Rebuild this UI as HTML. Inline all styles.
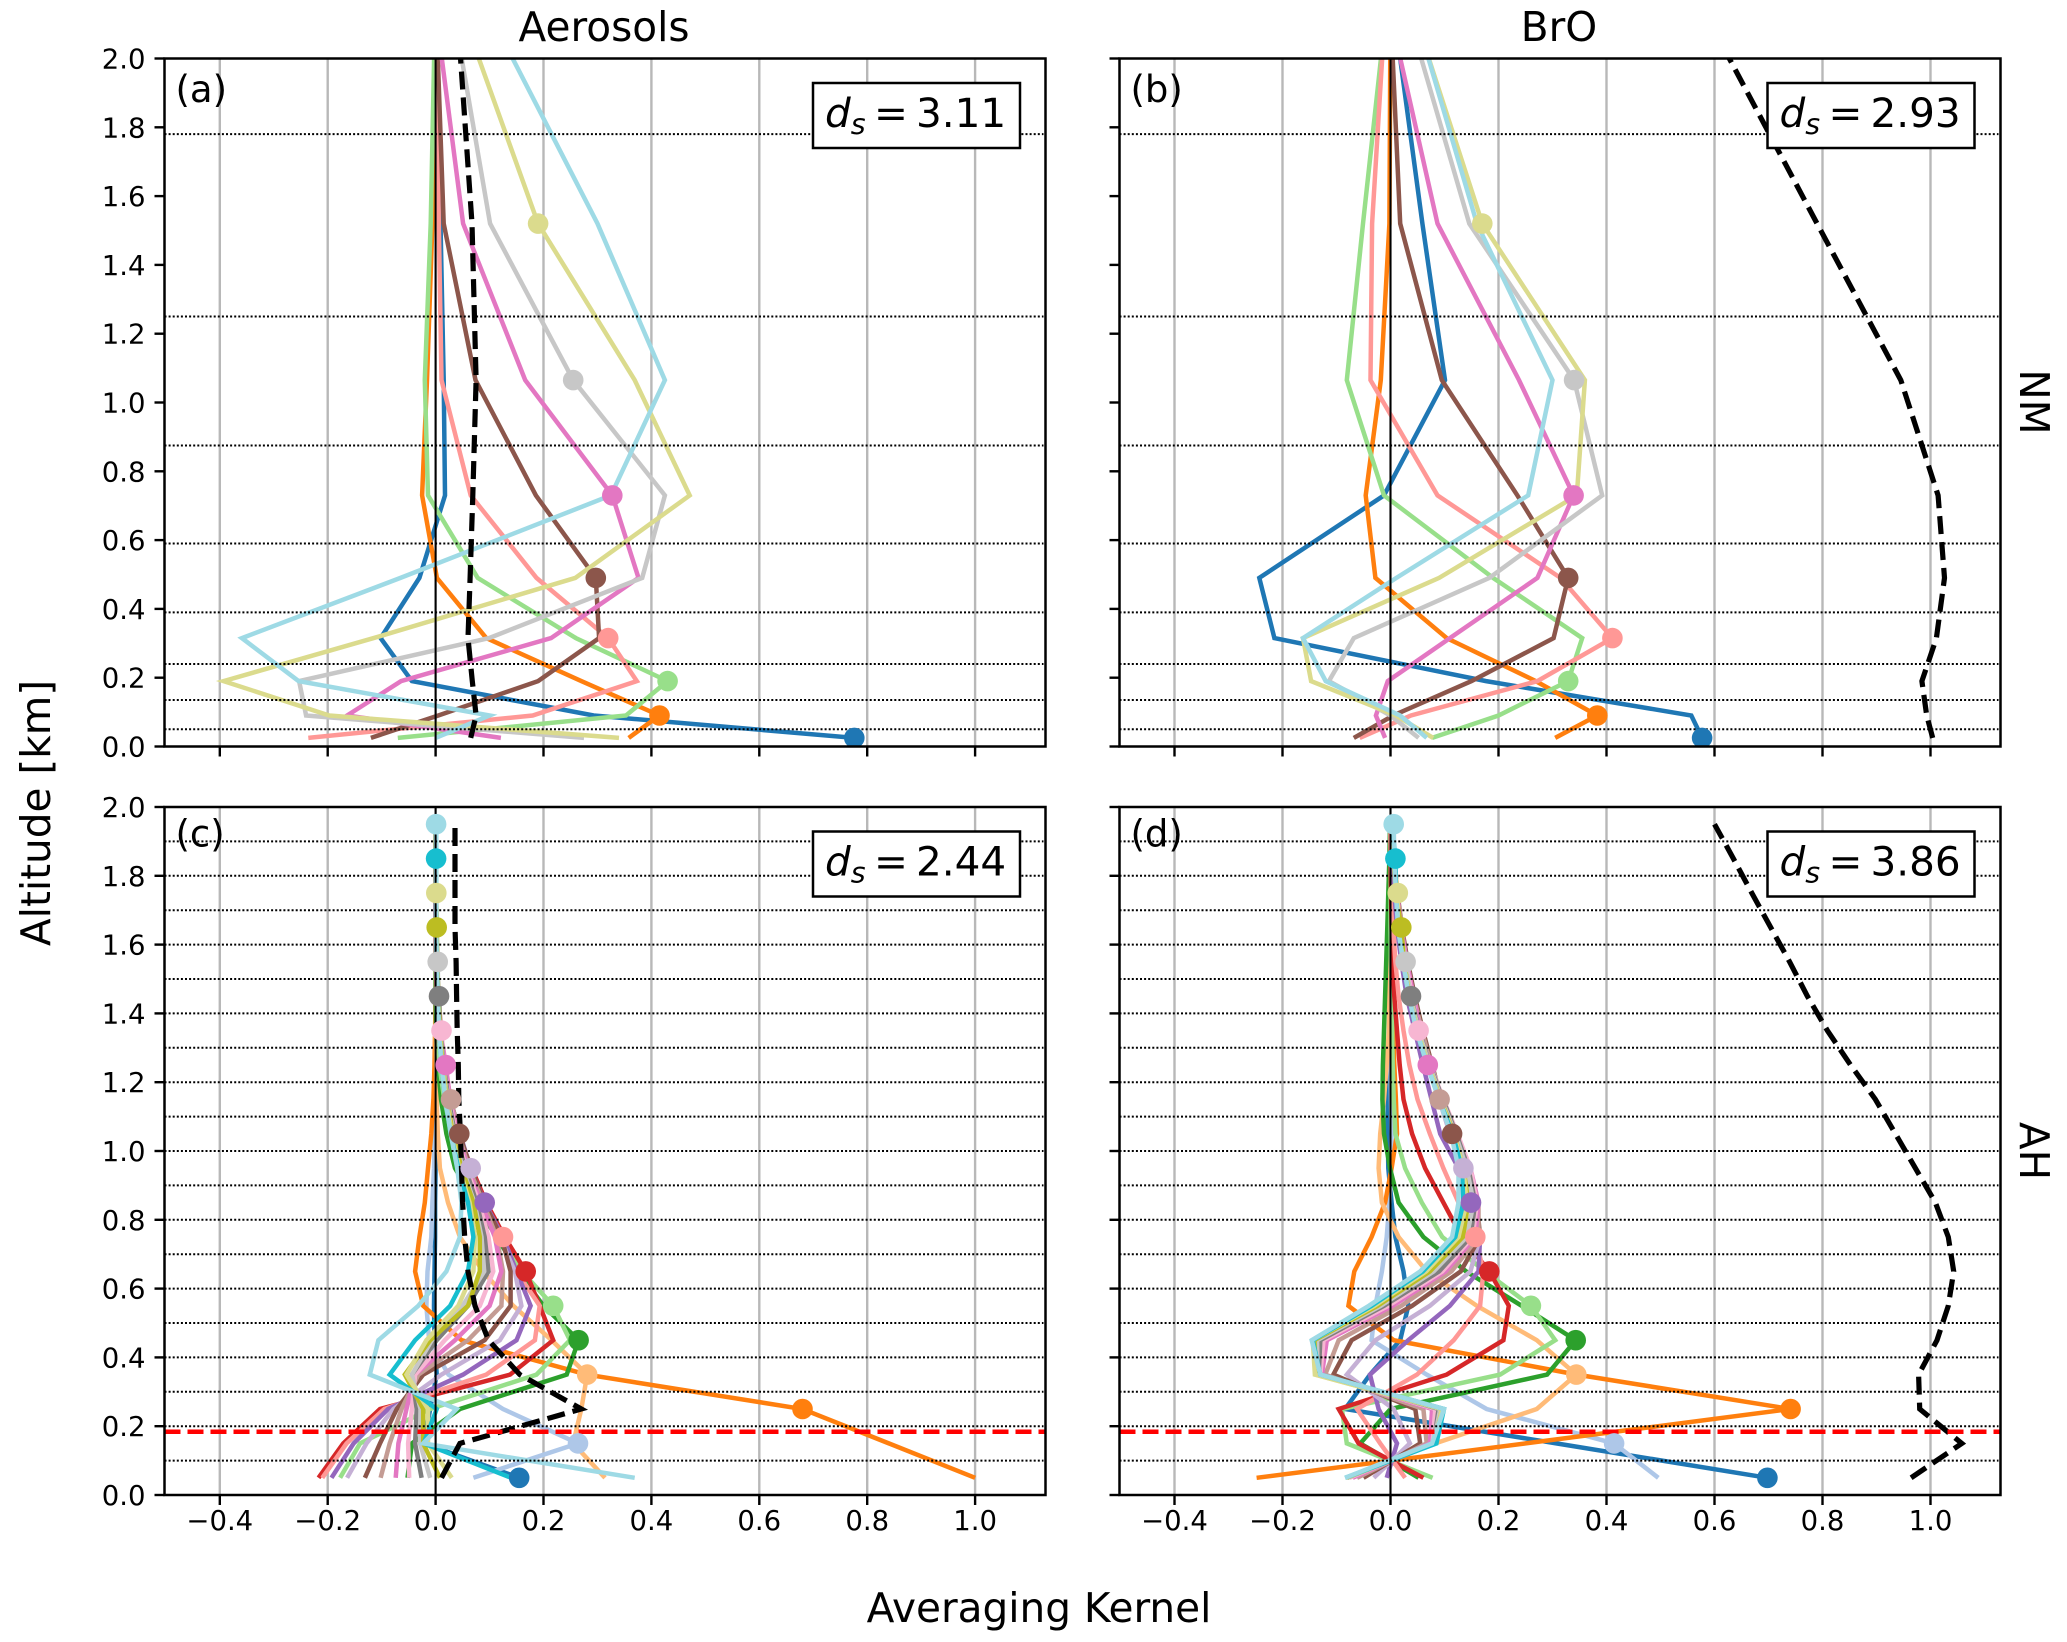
<!DOCTYPE html>
<html>
<head>
<meta charset="utf-8">
<title>Averaging Kernels</title>
<style>
html,body{margin:0;padding:0;background:#fff;}
svg{display:block;font-family:"DejaVu Sans","Liberation Sans",sans-serif;}
</style>
</head>
<body>
<svg id="fig" xmlns="http://www.w3.org/2000/svg" width="2067" height="1642" viewBox="0 0 2067 1642">
<rect x="0" y="0" width="2067" height="1642" fill="#fff"/>
<text x="604" y="41" font-size="40.6" text-anchor="middle">Aerosols</text>
<text x="1559" y="41" font-size="40.6" text-anchor="middle">BrO</text>
<text transform="translate(50,813) rotate(-90)" font-size="40.6" text-anchor="middle">Altitude [km]</text>
<text x="1039" y="1622" font-size="40.6" text-anchor="middle">Averaging Kernel</text>
<text transform="translate(2020,402) rotate(90)" font-size="40.6" text-anchor="middle">NM</text>
<text transform="translate(2020,1151) rotate(90)" font-size="40.6" text-anchor="middle">AH</text>
</svg>
<script>
const xTickValues = [-0.4,-0.2,0.0,0.2,0.4,0.6,0.8,1.0];
const xTickLabels = ["\u22120.4","\u22120.2","0.0","0.2","0.4","0.6","0.8","1.0"];
const yTickValues = [0.0,0.2,0.4,0.6,0.8,1.0,1.2,1.4,1.6,1.8,2.0];
const yTickLabels = ["0.0","0.2","0.4","0.6","0.8","1.0","1.2","1.4","1.6","1.8","2.0"];

const nmLevels = [0.025,0.09,0.19,0.315,0.49,0.73,1.065,1.52,2.14];
const nmBoundaries = [0.05,0.135,0.24,0.39,0.59,0.875,1.25,1.78];
const ahLevels = [0.05,0.15,0.25,0.35,0.45,0.55,0.65,0.75,0.85,0.95,1.05,1.15,1.25,1.35,1.45,1.55,1.65,1.75,1.85,1.95];
const ahBoundaries = [0.1,0.2,0.3,0.4,0.5,0.6,0.7,0.8,0.9,1.0,1.1,1.2,1.3,1.4,1.5,1.6,1.7,1.8,1.9];

const nmColors = ["#1f77b4","#ff7f0e","#98df8a","#ff9896","#8c564b","#e377c2","#c7c7c7","#dbdb8d","#9edae5"];
const ahColors = ["#1f77b4","#aec7e8","#ff7f0e","#ffbb78","#2ca02c","#98df8a","#d62728","#ff9896","#9467bd","#c5b0d5","#8c564b","#c49c94","#e377c2","#f7b6d2","#7f7f7f","#c7c7c7","#bcbd22","#dbdb8d","#17becf","#9edae5"];

const aerosolNmKernels = [
[0.776,0.293,-0.044,-0.102,-0.03,0.0175,0.015,0.009,0.0],
[0.358,0.415,0.27,0.094,0.0025,-0.025,-0.016,-0.006,0.0],
[-0.07,0.353,0.43,0.26,0.078,-0.014,-0.02,-0.009,-0.001],
[-0.236,0.18,0.373,0.32,0.187,0.065,0.011,0.006,0.001],
[-0.12,0.005,0.19,0.303,0.297,0.186,0.074,0.015,0.001],
[0.121,-0.164,-0.064,0.214,0.376,0.3275,0.166,0.051,0.0],
[0.275,-0.24,-0.253,0.099,0.383,0.425,0.255,0.101,0.033],
[0.34,-0.197,-0.393,-0.115,0.259,0.471,0.369,0.19,0.048],
[0.0,0.1,-0.254,-0.359,-0.065,0.325,0.425,0.30,0.097]
];
const aerosolNmSum = [0.065,0.075,0.068,0.06,0.064,0.069,0.075,0.0675,0.04];

const broNmKernels = [
[0.577,0.557,0.177,-0.215,-0.243,-0.012,0.101,0.059,0.006],
[0.305,0.383,0.269,0.104,-0.028,-0.046,-0.018,-0.002,0.0],
[0.077,0.2,0.329,0.355,0.19,-0.012,-0.081,-0.051,-0.008],
[-0.057,0.038,0.272,0.411,0.315,0.087,-0.037,-0.034,-0.01],
[-0.068,0.005,0.15,0.302,0.329,0.235,0.095,0.018,0.0],
[-0.01,-0.027,-0.005,0.11,0.272,0.339,0.238,0.087,-0.002],
[0.052,0.0,-0.114,-0.068,0.183,0.392,0.34,0.146,0.031],
[0.079,0.01,-0.147,-0.162,0.09,0.345,0.36,0.17,0.042],
[0.067,0.018,-0.12,-0.162,0.011,0.255,0.30,0.16,0.044]
];
const broNmSum = [1.004,0.993,0.984,1.011,1.026,1.014,0.945,0.79,0.58];

const aerosolAhKernels = [
[0.155,-0.022,-0.01,0.002,-0.002,-0.003,-0.002,-0.001,-0.001,0,0,0,0,0,0,0,0,0,0,0],
[0.07,0.264,0.125,0.024,-0.012,-0.017,-0.015,-0.008,-0.006,-0.003,-0.002,-0.001,0,0,0,0,0,0,0,0],
[1.0,0.84,0.68,0.28,0.048,-0.023,-0.038,-0.03,-0.02,-0.014,-0.008,-0.004,-0.002,-0.001,0,0,0,0,0,0],
[0.314,0.255,0.27,0.281,0.215,0.144,0.088,0.045,0.023,0.008,0.004,0.002,0.001,0,0,0,0,0,0,0],
[-0.052,-0.044,0.045,0.243,0.265,0.2,0.153,0.113,0.073,0.036,0.02,0.01,0.004,0.001,0,0,0,0,0,0],
[-0.177,-0.14,-0.01,0.187,0.249,0.218,0.16,0.118,0.082,0.048,0.03,0.016,0.007,0.003,0.001,0,0,0,0,0],
[-0.217,-0.171,-0.103,0.138,0.218,0.193,0.167,0.128,0.094,0.067,0.042,0.025,0.012,0.005,0.002,0.001,0,0,0,0],
[-0.21,-0.165,-0.095,0.094,0.184,0.193,0.15,0.125,0.09,0.062,0.04,0.022,0.012,0.005,0.002,0.001,0,0,0,0],
[-0.193,-0.152,-0.088,0.051,0.15,0.176,0.15,0.125,0.091,0.065,0.045,0.027,0.014,0.007,0.003,0.001,0,0,0,0],
[-0.164,-0.128,-0.078,0.011,0.119,0.159,0.147,0.119,0.088,0.065,0.043,0.028,0.015,0.008,0.003,0.001,0,0,0,0],
[-0.131,-0.103,-0.072,-0.023,0.091,0.139,0.139,0.122,0.09,0.065,0.044,0.028,0.016,0.008,0.003,0.001,0,0,0,0],
[-0.102,-0.085,-0.063,-0.032,0.06,0.122,0.125,0.113,0.088,0.062,0.042,0.0285,0.016,0.009,0.004,0.001,0,0,0,0],
[-0.074,-0.069,-0.054,-0.038,0.036,0.1,0.122,0.11,0.084,0.06,0.04,0.027,0.0187,0.009,0.004,0.001,0,0,0,0],
[-0.049,-0.051,-0.044,-0.038,0.017,0.082,0.107,0.098,0.08,0.057,0.038,0.025,0.015,0.011,0.005,0.002,0.001,0,0,0],
[-0.026,-0.038,-0.035,-0.044,0.002,0.06,0.098,0.091,0.076,0.055,0.036,0.024,0.015,0.009,0.0063,0.002,0.001,0,0,0],
[-0.01,-0.029,-0.028,-0.044,-0.007,0.05,0.09,0.085,0.072,0.05,0.034,0.022,0.014,0.008,0.005,0.0039,0.002,0.001,0,0],
[0.008,-0.023,-0.023,-0.057,-0.01,0.06,0.082,0.082,0.07,0.048,0.032,0.021,0.013,0.008,0.005,0.003,0.002,0.001,0,0],
[0.03,-0.014,-0.014,-0.054,-0.017,0.042,0.07,0.073,0.063,0.044,0.03,0.02,0.012,0.007,0.004,0.002,0.0015,0.0013,0.001,0],
[0.14,-0.022,0.002,-0.085,-0.038,0.027,0.06,0.07,0.06,0.042,0.028,0.018,0.011,0.006,0.004,0.002,0.001,0.001,0.001,0.001],
[0.369,-0.023,0.039,-0.122,-0.106,-0.032,0.02,0.045,0.048,0.04,0.028,0.018,0.011,0.006,0.004,0.002,0.001,0.001,0.001,0.001]
];
const aerosolAhSum = [0.011,0.045,0.27,0.156,0.098,0.073,0.06,0.054,0.05,0.048,0.046,0.043,0.042,0.04,0.039,0.038,0.036,0.036,0.036,0.036];

const broAhKernels = [
[0.698,0.307,-0.084,-0.038,0.018,0.033,0.024,0.009,0.002,-0.004,-0.005,-0.005,-0.003,-0.002,-0.001,0,0,0,0,0],
[0.496,0.414,0.178,0.067,-0.035,-0.028,-0.016,-0.007,-0.002,0.001,0.002,0.001,0,0,0,0,0,0,0,0],
[-0.248,0.25,0.741,0.345,0.006,-0.078,-0.067,-0.035,-0.01,0.002,0.012,0.01,0.007,0.005,0.003,0.002,0.001,0,0,0],
[-0.08,0.083,0.271,0.344,0.271,0.16,0.067,0.015,-0.016,-0.022,-0.019,-0.012,-0.007,-0.003,-0.002,-0.001,0,0,0,0],
[0.052,-0.056,0.0,0.29,0.343,0.243,0.14,0.061,0.015,-0.001,-0.012,-0.015,-0.014,-0.012,-0.01,-0.008,-0.006,-0.004,-0.002,-0.001],
[0.078,-0.081,-0.09,0.203,0.305,0.26,0.175,0.096,0.058,0.027,0.009,0.006,0.004,0.003,0.002,0.001,0,0,0,0],
[0.061,-0.059,-0.096,0.104,0.209,0.219,0.183,0.132,0.098,0.064,0.04,0.024,0.017,0.012,0.007,0.004,0.002,0.001,0,0],
[0.027,-0.019,-0.062,0.049,0.117,0.166,0.172,0.157,0.126,0.098,0.073,0.05,0.035,0.024,0.015,0.009,0.005,0.003,0.001,0],
[-0.007,0.012,-0.022,-0.038,0.033,0.11,0.163,0.166,0.149,0.126,0.092,0.076,0.06,0.045,0.03,0.02,0.012,0.007,0.004,0.002],
[-0.031,0.036,0.006,-0.081,-0.028,0.073,0.148,0.166,0.157,0.135,0.11,0.09,0.072,0.055,0.04,0.028,0.018,0.011,0.006,0.003],
[-0.05,0.055,0.046,-0.106,-0.072,0.04,0.13,0.166,0.16,0.138,0.114,0.094,0.077,0.06,0.045,0.032,0.021,0.013,0.007,0.004],
[-0.062,0.067,0.061,-0.121,-0.096,0.02,0.113,0.163,0.163,0.144,0.118,0.091,0.075,0.058,0.043,0.03,0.02,0.012,0.007,0.004],
[-0.07,0.073,0.077,-0.127,-0.118,0.004,0.102,0.157,0.163,0.148,0.123,0.097,0.069,0.055,0.043,0.03,0.02,0.012,0.007,0.004],
[-0.076,0.078,0.083,-0.13,-0.124,-0.004,0.096,0.152,0.16,0.148,0.124,0.098,0.074,0.052,0.04,0.028,0.018,0.011,0.006,0.003],
[-0.08,0.08,0.089,-0.133,-0.13,-0.012,0.09,0.148,0.157,0.144,0.122,0.097,0.073,0.053,0.038,0.026,0.017,0.01,0.006,0.003],
[-0.08,0.08,0.092,-0.135,-0.136,-0.018,0.08,0.141,0.154,0.141,0.12,0.095,0.072,0.052,0.037,0.028,0.017,0.01,0.006,0.003],
[-0.082,0.082,0.095,-0.138,-0.141,-0.024,0.073,0.134,0.144,0.135,0.118,0.093,0.07,0.05,0.035,0.025,0.02,0.01,0.006,0.003],
[-0.083,0.083,0.095,-0.14,-0.144,-0.03,0.066,0.126,0.141,0.135,0.117,0.092,0.07,0.05,0.035,0.024,0.0136,0.0136,0.006,0.003],
[-0.084,0.085,0.099,-0.13,-0.144,-0.035,0.06,0.12,0.135,0.132,0.115,0.09,0.068,0.048,0.034,0.023,0.014,0.01,0.009,0.003],
[-0.084,0.077,0.099,-0.13,-0.146,-0.04,0.055,0.114,0.126,0.126,0.112,0.09,0.068,0.048,0.034,0.023,0.014,0.01,0.007,0.006]
];
const broAhSum = [0.964,1.058,0.98,0.978,1.012,1.033,1.043,1.033,1.009,0.972,0.935,0.898,0.852,0.809,0.772,0.739,0.704,0.669,0.635,0.6];

const redLineAltitude = 0.184;
const dofsLabels = ["3.11","2.93","2.44","3.86"];
const panelLetters = ["(a)","(b)","(c)","(d)"];

const SVGNS = "http://www.w3.org/2000/svg";
const fig = document.getElementById("fig");

function mk(parent, tag, attrs) {
  const el = document.createElementNS(SVGNS, tag);
  for (const k in attrs) el.setAttribute(k, attrs[k]);
  parent.appendChild(el);
  return el;
}

function drawPanel(cfg) {
  const xAxis = v => cfg.x0 + v * cfg.sx;
  const yAxis = v => cfg.bottom - v * 344;
  const left = cfg.left, right = cfg.left + 881, top = cfg.bottom - 688, bottom = cfg.bottom;

  const g = mk(fig, "g", {});
  
  

  const defs = mk(g, "defs", {});
  const clip = mk(defs, "clipPath", {id: "clip-" + cfg.letter});
  mk(clip, "rect", {x: left, y: top, width: 881, height: 688});

  const gridG = mk(g, "g", {});
  
  
  xTickValues.forEach(v => {
    const gl = mk(gridG, "line", {x1: xAxis(v), x2: xAxis(v), y1: top, y2: bottom, stroke: "#b8b8b8", "stroke-width": 2.4});
    
    
  });

  const plot = mk(g, "g", {"clip-path": "url(#clip-" + cfg.letter + ")"});

  cfg.kernels.forEach((row, i) => {
    const pts = row.map((v, j) => xAxis(v).toFixed(1) + "," + yAxis(cfg.levels[j]).toFixed(1)).join(" ");
    const line = mk(plot, "polyline", {points: pts, fill: "none", stroke: cfg.colors[i], "stroke-width": 4.5, "stroke-linejoin": "miter"});
    
    
  });

  const sumPts = cfg.sum.map((v, j) => xAxis(v).toFixed(1) + "," + yAxis(cfg.levels[j]).toFixed(1)).join(" ");
  const sumLine = mk(plot, "polyline", {points: sumPts, fill: "none", stroke: "#000", "stroke-width": 5.2, "stroke-dasharray": "18 8"});
  
  

  cfg.boundaries.forEach(b => {
    const d = mk(plot, "line", {x1: left, x2: right - 2, y1: yAxis(b), y2: yAxis(b), stroke: "#000", "stroke-width": 2, "stroke-dasharray": "2 2.1"});
    
    
  });

  const zero = mk(plot, "line", {x1: xAxis(0), x2: xAxis(0), y1: top, y2: bottom, stroke: "#000", "stroke-width": 2});
  
  

  if (cfg.red) {
    const r = mk(plot, "line", {x1: left, x2: right, y1: yAxis(redLineAltitude), y2: yAxis(redLineAltitude), stroke: "#ff0000", "stroke-width": 4.5, "stroke-dasharray": "16 7"});
    
    
  }

  cfg.kernels.forEach((row, i) => {
    const m = mk(plot, "circle", {cx: xAxis(row[i]).toFixed(1), cy: yAxis(cfg.levels[i]).toFixed(1), r: 10.3, fill: cfg.colors[i]});
    
    
  });

  const frame = mk(g, "rect", {x: left, y: top, width: 881, height: 688, fill: "none", stroke: "#000", "stroke-width": 2.5});
  
  

  xTickValues.forEach((v, i) => {
    const t = mk(g, "line", {x1: xAxis(v), x2: xAxis(v), y1: bottom, y2: bottom + 10, stroke: "#000", "stroke-width": 2.4});
    
    
    if (cfg.xLabels) {
      const lab = mk(g, "text", {x: xAxis(v), y: bottom + 35, "font-size": 27.5, "text-anchor": "middle"});
      lab.textContent = xTickLabels[i];
      
      
    }
  });
  yTickValues.forEach((v, i) => {
    const t = mk(g, "line", {x1: left - 10, x2: left, y1: yAxis(v), y2: yAxis(v), stroke: "#000", "stroke-width": 2.4});
    
    
    if (cfg.yLabels) {
      const lab = mk(g, "text", {x: left - 19, y: yAxis(v) + 10, "font-size": 27.5, "text-anchor": "end"});
      lab.textContent = yTickLabels[i];
      
      
    }
  });

  const letter = mk(g, "text", {x: left + 11, y: top + cfg.letterOffset, "font-size": 37});
  letter.textContent = panelLetters[cfg.idx];
  
  

  const boxG = mk(g, "g", {});
  
  
  const bx = cfg.boxX, by = top + 24.5;
  mk(boxG, "rect", {x: bx, y: by, width: 207, height: 65, fill: "#fff", stroke: "#000", "stroke-width": 2.5});
  const tx = mk(boxG, "text", {"font-size": 40.5, y: by + 44});
  const t1 = mk(tx, "tspan", {x: bx + 12, "font-style": "italic"});
  t1.textContent = "d";
  const t2 = mk(tx, "tspan", {"font-style": "italic", "font-size": 28.5, dy: 7});
  t2.textContent = "s";
  const t3 = mk(tx, "tspan", {x: bx + 61, dy: -7});
  t3.textContent = "=";
  const t4 = mk(tx, "tspan", {x: bx + 103});
  t4.textContent = dofsLabels[cfg.idx];
}

drawPanel({idx:0, letter:"a", name:"panel-aerosols-nm", letterOffset:43.5, left:164.5, bottom:746.5, x0:435.6, sx:539.5, boxX:813, levels:nmLevels, boundaries:nmBoundaries, kernels:aerosolNmKernels, sum:aerosolNmSum, colors:nmColors, red:false, xLabels:false, yLabels:true});
drawPanel({idx:1, letter:"b", name:"panel-bro-nm", letterOffset:43.5, left:1119.5, bottom:746.5, x0:1390.5, sx:540, boxX:1767.5, levels:nmLevels, boundaries:nmBoundaries, kernels:broNmKernels, sum:broNmSum, colors:nmColors, red:false, xLabels:false, yLabels:false});
drawPanel({idx:2, letter:"c", name:"panel-aerosols-ah", letterOffset:39.5, left:164.5, bottom:1495, x0:435.6, sx:539.5, boxX:813, levels:ahLevels, boundaries:ahBoundaries, kernels:aerosolAhKernels, sum:aerosolAhSum, colors:ahColors, red:true, xLabels:true, yLabels:true});
drawPanel({idx:3, letter:"d", name:"panel-bro-ah", letterOffset:39.5, left:1119.5, bottom:1495, x0:1390.5, sx:540, boxX:1767.5, levels:ahLevels, boundaries:ahBoundaries, kernels:broAhKernels, sum:broAhSum, colors:ahColors, red:true, xLabels:true, yLabels:false});
</script>
</body>
</html>
